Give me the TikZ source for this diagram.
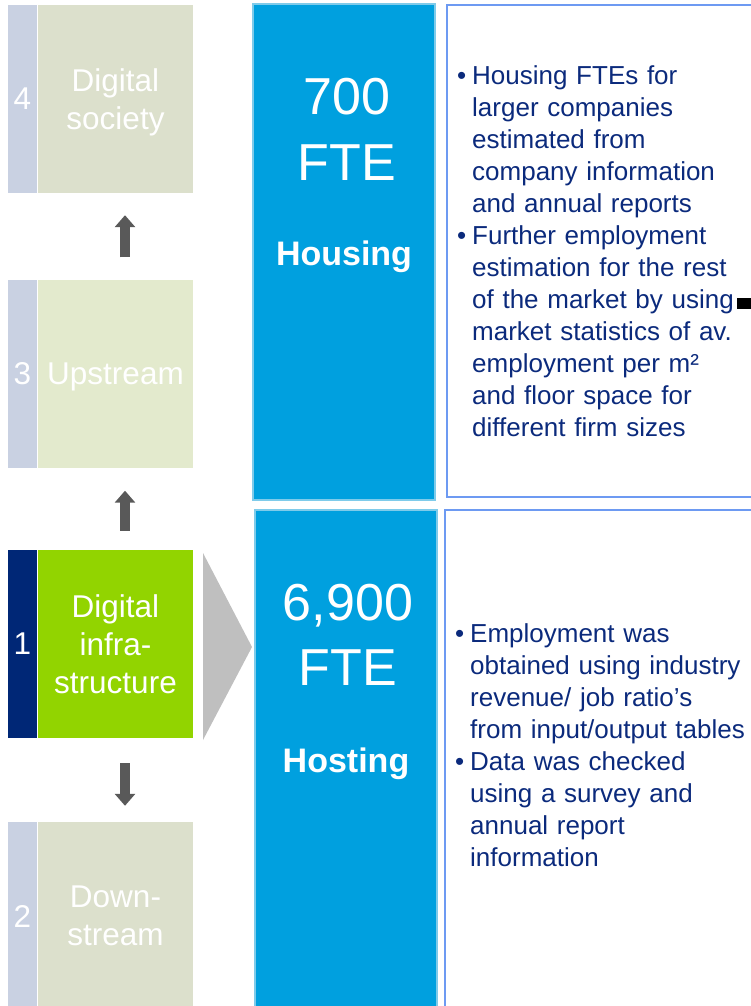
\documentclass[tikz,border=0pt]{standalone}
\usepackage{fontspec}
\setmainfont{Liberation Sans}
\usetikzlibrary{arrows.meta,positioning}

\definecolor{stripgray}{HTML}{C9D1E2}
\definecolor{seggray}{HTML}{DCE0CC}
\definecolor{segpale}{HTML}{E3EACD}
\definecolor{stripnavy}{HTML}{002776}
\definecolor{seglime}{HTML}{92D400}
\definecolor{arrowgray}{HTML}{595959}
\definecolor{pointgray}{HTML}{BFBFBF}
\definecolor{fteblue}{HTML}{00A0DF}
\definecolor{fteedge}{HTML}{7FCBEA}
\definecolor{noteedge}{HTML}{6D9AF2}
\definecolor{notetext}{HTML}{0B2A7C}

\newcommand{\segfont}{\fontsize{31.5}{38}\selectfont}
\newcommand{\bulletline}{\par\noindent\hangindent=15pt\hangafter=1\makebox[15pt][l]{\textbullet}}

\begin{document}
\begin{tikzpicture}[x=1pt, y=-1pt,
        numbox/.style={fill=#1, minimum width=29pt, minimum height=188pt,
                       inner sep=0pt, text=white, font=\segfont},
        segbox/.style={fill=#1, minimum width=155pt, minimum height=188pt,
                       inner sep=0pt, align=center, text=white, font=\segfont},
        blockarrow/.style={draw=arrowgray, line width=10pt,
                           -{Triangle[width=20pt,length=12pt]}},
        fteblock/.style={fill=fteblue, draw=fteedge, line width=2pt,
                         minimum width=182pt, inner sep=0pt},
        ftenum/.style={text=white, inner sep=0pt, anchor=base,
                       font=\fontsize{52}{62}\selectfont},
        ftelab/.style={text=white, inner sep=0pt, anchor=base,
                       font=\fontsize{34}{40}\selectfont\bfseries},
        notebox/.style={draw=noteedge, line width=1.2pt},
        notetxt/.style={text=notetext, inner sep=0pt, anchor=base west,
                        text width=300pt,
                        font=\fontsize{26}{32}\selectfont},
      ]
        \path[use as bounding box, clip] (0,0) rectangle (751,1006);

        % value chain segments
        \node[numbox=stripgray] (n4) at (22.5,99) {4};
        \node[segbox=seggray] (s4) at (115.5,99) {Digital\\societ\smash{y}};
        \node[numbox=stripgray] (n3) at (22.5,373.5) {3};
        \node[segbox=segpale, text depth=0pt] (s3) at (115.5,373.5) {Upstream};
        \node[numbox=stripnavy] (n1) at (22.5,644) {1};
        \node[segbox=seglime] (s1) at (115.5,644) {Digital\\infra-\\structure};
        \node[numbox=stripgray] (n2) at (22.5,916) {2};
        \node[segbox=seggray] (s2) at (115.5,916) {Down-\\stream};

        \draw[blockarrow, shorten <=22pt, shorten >=22pt]
          ([xshift=9.5pt]s3.north) -- ([xshift=9.5pt]s4.south);
        \draw[blockarrow, shorten <=19pt, shorten >=23pt]
          ([xshift=9.5pt]s1.north) -- ([xshift=9.5pt]s3.south);
        \draw[blockarrow, shorten <=25pt, shorten >=16pt]
          ([xshift=9.5pt]s1.south) -- ([xshift=9.5pt]s2.north);

        \fill[pointgray] (203,553) -- (252,647) -- (203,740) -- cycle;

        % FTE columns
        \node[fteblock, minimum height=496pt] (hous) at (344,252) {};
        \node[ftenum] (hnum) at (347,115) {700};
        \node[ftenum] (hunit) at (347,180) {FTE};
        \node[ftelab] (hlab) at (344,265) {Housing};

        \node[fteblock, minimum height=500pt] (host) at (346,760) {};
        \node[ftenum] (tnum) at (348,620) {6,900};
        \node[ftenum] (tunit) at (348,685) {FTE};
        \node[ftelab] (tlab) at (346,772) {Hosting};

        % method notes
        \draw[notebox] (447,5) rectangle (760,497);
        \node[notetxt] (hnote) at (457,53)
          {\raggedright
           \bulletline Housing FTEs for\newline larger companies\newline
           estimated from\newline company information\newline
           and annual reports
           \bulletline Further employment\newline estimation for the rest\newline
           of the market by using\newline market statistics of av.\newline
           employment per m²\newline and floor space for\newline
           different firm sizes\par};
        \fill (737,298) rectangle (751,309);

        \draw[notebox] (445,510) rectangle (760,1012);
        \node[notetxt] (tnote) at (455,610)
          {\raggedright
           \bulletline Employment was\newline obtained using industry\newline
           revenue/ job ratio’s\newline from input/output tables
           \bulletline Data was checked\newline using a survey and\newline
           annual report\newline information\par};
      \end{tikzpicture}
\end{document}
